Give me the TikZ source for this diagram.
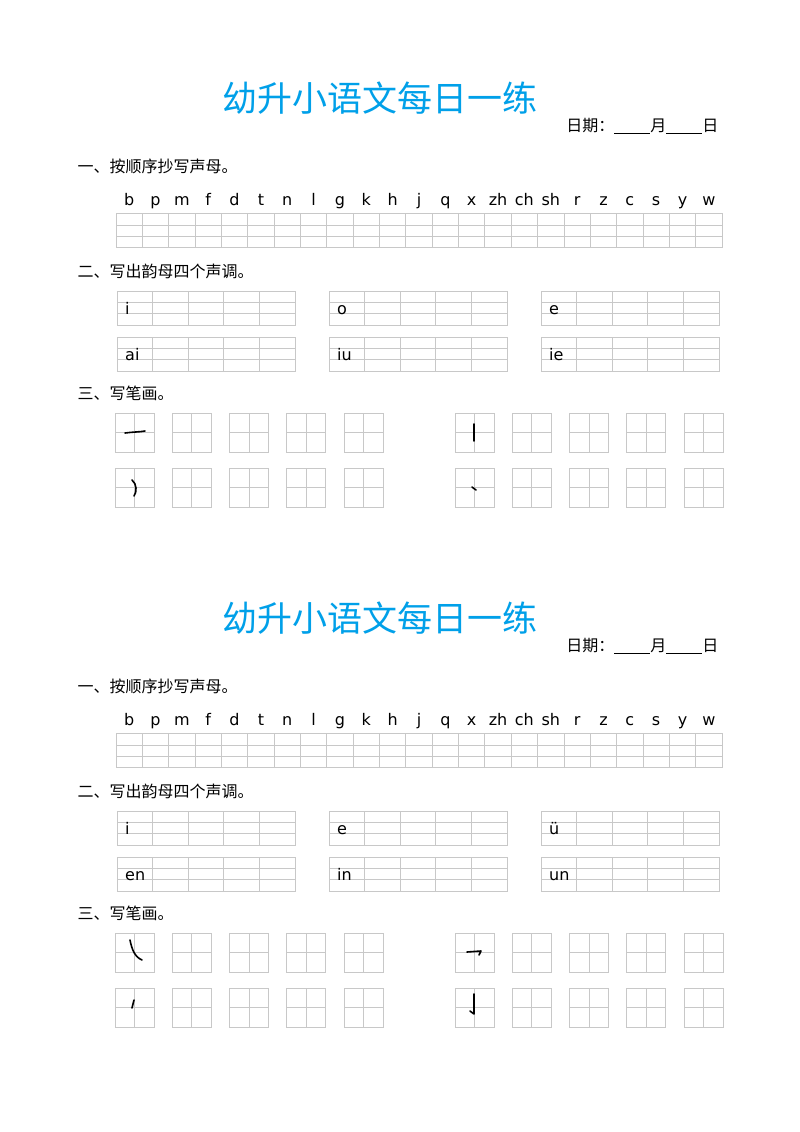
\documentclass[tikz,border=0pt]{standalone}
\usepackage{fontspec}
\setmainfont{DejaVu Sans}
\newfontfamily\cjk{Noto Sans CJK SC}
\definecolor{ttl}{RGB}{0,160,233}
\definecolor{gl}{RGB}{200,200,200}
\tikzset{x=1pt,y=-1pt,
 ttlstyle/.style={text=ttl,font=\cjk\fontsize{35}{35}\selectfont},
 hd/.style={anchor=west,font=\cjk\fontsize{16}{16}\selectfont},
 lt/.style={font=\fontsize{16}{16}\selectfont,anchor=base},
 gline/.style={draw=gl,line width=0.9pt},
 stroke/.style={line width=1.6pt,line cap=round,line join=round}}
\newcommand{\pybox}[4]{% x, y, text, name
  \draw[gline] (#1,#2) rectangle ++(178,34);
  \draw[gline] (#1,#2+11.3) -- ++(178,0) (#1,#2+22.7) -- ++(178,0);
  \foreach \k in {1,...,4} \draw[gline] (#1+35.6*\k,#2) -- ++(0,34);
  \node[lt,anchor=base west,inner sep=0pt] (#4) at (#1+8,#2+23) {#3};}
\newcommand{\tianbox}[2]{%
  \draw[gline] (#1,#2) rectangle ++(39,39);
  \draw[gline] (#1+19.5,#2) -- ++(0,39) (#1,#2+19.5) -- ++(39,0);}
\newcommand{\worksheet}[8]{% offset, six finals, strokes
\begin{scope}[yshift=-#1]
 \node[ttlstyle] (title#1) at (380,98) {幼升小语文每日一练};
 \node[anchor=east,font=\cjk\fontsize{16}{16}\selectfont] (date#1) at (722,126) {日期：\underline{\hspace{36pt}}月\underline{\hspace{36pt}}日};
 \node[hd] (h1#1) at (74,166) {一、按顺序抄写声母。};
 \foreach \l [count=\i] in {b,p,m,f,d,t,n,l,g,k,h,j,q,x,zh,ch,sh,r,z,c,s,y,w}
   \node[lt] (L\i#1) at (116+26.35*\i-13.2,205) {\l};
 \draw[gline] (116,213) rectangle (722,247);
 \draw[gline] (116,225) -- (722,225) (116,236) -- (722,236);
 \foreach \i in {1,...,22} \draw[gline] (116+26.35*\i,213) -- ++(0,34);
 \node[hd] (h2#1) at (74,271) {二、写出韵母四个声调。};
 \pybox{117}{291}{#2}{a#1}\pybox{329}{291}{#3}{b#1}\pybox{541}{291}{#4}{c#1}
 \pybox{117}{337}{#5}{d#1}\pybox{329}{337}{#6}{e#1}\pybox{541}{337}{#7}{f#1}
 \node[hd] (h3#1) at (74,393) {三、写笔画。};
 \foreach \x in {115,172.3,229.6,286.9,344.2,455,512.3,569.6,626.9,684.2}
   {\tianbox{\x}{413}\tianbox{\x}{468}}
 #8
\end{scope}}
\begin{document}
\begin{tikzpicture}
\fill[white] (0,0) rectangle (800,1132);
\useasboundingbox (0,0) rectangle (800,1132);
\worksheet{0}{i}{o}{e}{ai}{iu}{ie}{%
 \draw[stroke] (125,433) .. controls (132,432) and (140,432) .. (145,431);
 \draw[stroke] (474,424) -- (474,441);
 \draw[stroke] (132,480) .. controls (137,484) and (137,492) .. (134,496);
 \draw[stroke] (472,487) -- (476,490);}
\worksheet{520}{i}{e}{ü}{en}{in}{un}{%
 \draw[stroke] (130,420) .. controls (132,430) and (135,437) .. (142,440);
 \draw[stroke] (467,432) -- (481,431) -- (479,435);
 \draw[stroke] (134,480) -- (132,488);
 \draw[stroke] (474,474) -- (474,494) -- (470,491);}
\end{tikzpicture}
\end{document}
